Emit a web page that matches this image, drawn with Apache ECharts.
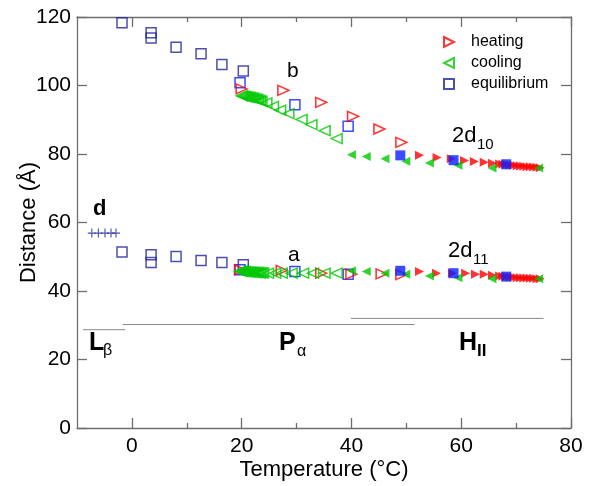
<!DOCTYPE html>
<html>
<head>
<meta charset="utf-8">
<script src="https://cdn.jsdelivr.net/npm/echarts@6/dist/echarts.min.js"></script>
<style>
html,body{margin:0;padding:0;background:#fff;}
#c{width:606px;height:486px;}
</style>
</head>
<body>
<div id="c"></div>
<script>
// ---- data (Temperature °C, Distance Å) ----
const xMajorTicks = [0, 20, 40, 60, 80];
const xMinorTicks = [10, 30, 50, 70];
const equilibriumOpen = [
  [-1.8,118.3],[3.5,115.4],[3.5,113.9],[8.05,111.2],[12.6,109.3],[16.4,106.1],[20.3,104.2],
  [-1.8,51.4],[3.5,50.6],[3.5,48.3],[8.05,50.1],[12.6,48.9],[16.4,48.3],[20.3,47.7]
];
const equilibriumOpenBright = [
  [19.7,100.8],[29.7,94.4],[39.4,88.1],
  [19.7,46.2],[29.7,45.7],[39.4,44.9]
];
const equilibriumFilled = [
  [48.9,79.6],[58.6,78.2],[68.2,77.0],
  [48.9,45.9],[58.6,45.2],[68.2,44.2]
];
const heatingOpen = [
  [20.0,99.0],[27.6,98.6],[34.5,95.1],[40.3,91.0],[45.1,87.3],[49.1,83.4],
  [19.7,46.2],[27.3,46.0],[34.5,45.2],[40.0,44.9],[45.5,45.0],[49.1,44.8]
];
const heatingFilled = [
  [52.4,79.6],[55.6,79.0],[58.2,78.6],[60.6,78.1],[62.4,77.8],[64.2,77.6],[65.7,77.3],[67.0,77.1],
  [67.6,77.0],[68.2,76.9],[68.9,76.8],[69.6,76.7],[70.2,76.6],[70.8,76.5],[71.4,76.4],[72.0,76.3],
  [72.6,76.3],[73.2,76.2],[73.8,76.1],[74.4,76.0],
  [52.4,45.7],[55.5,45.2],[58.4,45.2],[60.8,45.2],[62.6,44.9],[64.2,44.9],[65.7,44.6],[67.0,44.4],
  [67.6,44.3],[68.2,44.2],[68.9,44.1],[69.6,44.0],[70.2,43.9],[70.8,43.9],[71.4,43.8],[72.0,43.8],
  [72.6,43.7],[73.2,43.7],[73.8,43.6],[74.4,43.6]
];
const coolingOpen = [
  [20.0,97.0],[20.3,96.9],[20.6,96.8],[20.9,96.7],[21.2,96.6],[21.5,96.5],[21.8,96.4],[22.1,96.3],
  [22.4,96.1],[22.7,96.0],[23.0,95.8],[23.3,95.6],[23.6,95.4],
  [24.5,94.9],[25.7,93.9],[27.0,92.8],[28.5,91.8],[30.9,90.1],[32.7,88.6],[35.1,86.8],[37.3,84.5],
  [19.7,45.8],[20.0,45.8],[20.3,45.7],[20.6,45.7],[20.9,45.6],[21.2,45.6],[21.5,45.5],[21.8,45.5],
  [22.1,45.5],[22.4,45.4],[22.7,45.4],[23.0,45.4],[23.3,45.3],[23.6,45.3],[23.9,45.3],
  [24.8,45.2],[26.1,45.2],[27.3,45.2],[29.1,45.2],[31.2,45.2],[33.0,45.2],[35.1,45.2],[37.3,45.2]
];
const coolingFilled = [
  [40.0,79.8],[42.7,79.3],[46.1,78.6],[49.9,77.9],[54.2,77.4],[59.4,76.7],[65.6,75.9],[74.1,75.9],
  [40.0,45.9],[42.7,45.7],[46.1,45.2],[49.9,44.9],[54.2,44.4],[59.4,43.9],[65.6,43.6],[74.1,43.6]
];
const dSpacing = [[-7.3,56.9],[-6.1,56.9],[-4.9,56.9],[-3.8,56.9],[-2.9,56.9]];
const phaseLbeta = [[-8.9,28.7],[-1.2,28.7]];
const phasePalpha = [[-1.7,30.2],[51.5,30.2]];
const phaseHII = [[39.9,32.0],[75.0,32.0]];

// ---- styles ----
const RED = '#ff0000', GREEN = '#00c800', NAVY = '#22229a', BLUE = '#0a1eff', AXIS = '#6e6e6e';
const FONT = '"Liberation Sans", Arial, Helvetica, sans-serif';
const plusPath = 'path://M4.3,0H5.7V4.3H10V5.7H5.7V10H4.3V5.7H0V4.3H4.3Z';
const triRight = 'path://M0,0L10,5L0,10Z';
const triLeft = 'path://M10,0L0,5L10,10Z';

function phaseLine(data){
  return {type:'line', data, symbol:'none', silent:true, lineStyle:{color:'#888', width:1}, z:1};
}
function openStyle(c){ return {color:'rgba(255,255,255,0)', borderColor:c, borderWidth:1.5}; }

const chart = echarts.init(document.getElementById('c'), null, {renderer:'canvas'});
const baseX = {type:'value', min:-10, max:80, splitLine:{show:false}};
const option = {
  animation:false,
  backgroundColor:'#fff',
  textStyle:{fontFamily:FONT},
  grid:{left:77, right:35, top:17, bottom:58, containLabel:false, outerBoundsMode:'none'},
  legend:{
    data:[{name:'heating', icon:triRight},{name:'cooling', icon:triLeft},{name:'equilibrium', icon:'rect'}],
    orient:'vertical', left:438, top:29, itemWidth:10, itemHeight:10, itemGap:5,
    textStyle:{fontSize:16, color:'#000', fontFamily:FONT, padding:[0,0,0,12]}, selectedMode:false
  },
  xAxis:[
    Object.assign({}, baseX, {position:'bottom', name:'Temperature (°C)', nameLocation:'middle', nameGap:31,
      nameMoveOverlap:false,
      nameTextStyle:{fontSize:22, color:'#000', fontFamily:FONT},
      axisLine:{onZero:false, lineStyle:{color:AXIS, width:1.3}},
      axisTick:{inside:true, length:10, customValues:xMajorTicks, lineStyle:{color:AXIS, width:1.3}},
      axisLabel:{customValues:xMajorTicks, fontSize:21, color:'#000', margin:8, fontFamily:FONT}}),
    Object.assign({}, baseX, {position:'bottom', axisLine:{show:false, onZero:false},
      axisTick:{inside:true, length:5, customValues:xMinorTicks, lineStyle:{color:AXIS, width:1.3}},
      axisLabel:{show:false}}),
    Object.assign({}, baseX, {position:'top', axisLine:{onZero:false, lineStyle:{color:AXIS, width:1.3}},
      axisTick:{inside:true, length:10, customValues:xMajorTicks, lineStyle:{color:AXIS, width:1.3}},
      axisLabel:{show:false}}),
    Object.assign({}, baseX, {position:'top', axisLine:{show:false, onZero:false},
      axisTick:{inside:true, length:5, customValues:xMinorTicks, lineStyle:{color:AXIS, width:1.3}},
      axisLabel:{show:false}})
  ],
  yAxis:[
    {type:'value', min:0, max:120, interval:20, position:'left', splitLine:{show:false},
      name:'Distance (Å)', nameLocation:'middle', nameGap:37, nameMoveOverlap:false,
      nameTextStyle:{fontSize:22, color:'#000', fontFamily:FONT},
      axisLine:{show:true, onZero:false, lineStyle:{color:AXIS, width:1.3}},
      axisTick:{show:true, inside:true, length:10, lineStyle:{color:AXIS, width:1.3}},
      axisLabel:{fontSize:21, color:'#000', margin:6, fontFamily:FONT}},
    {type:'value', min:0, max:120, interval:20, position:'right', splitLine:{show:false},
      axisLine:{show:true, onZero:false, lineStyle:{color:AXIS, width:1.3}},
      axisTick:{show:true, inside:true, length:10, lineStyle:{color:AXIS, width:1.3}},
      axisLabel:{show:false}}
  ],
  series:[
    phaseLine(phaseLbeta), phaseLine(phasePalpha), phaseLine(phaseHII),
    {type:'scatter', name:'d', data:dSpacing, symbol:plusPath, symbolSize:[8,9],
      itemStyle:{color:NAVY}, z:3},
    {type:'scatter', name:'equilibrium', data:equilibriumOpen, symbol:'rect', symbolSize:10,
      itemStyle:openStyle(NAVY), z:3},
    {type:'scatter', name:'equilibrium2', data:equilibriumOpenBright, symbol:'rect', symbolSize:10,
      itemStyle:openStyle(BLUE), z:3},
    {type:'scatter', name:'heating', data:heatingOpen, symbol:'triangle', symbolRotate:-90, symbolSize:[10,11],
      itemStyle:openStyle(RED), z:4},
    {type:'scatter', name:'heating2', data:heatingFilled, symbol:'triangle', symbolRotate:-90, symbolSize:[9,9],
      itemStyle:{color:RED}, z:4},
    {type:'scatter', name:'cooling', data:coolingOpen, symbol:'triangle', symbolRotate:90, symbolSize:[10,11],
      itemStyle:openStyle(GREEN), z:5},
    {type:'scatter', name:'cooling2', data:coolingFilled, symbol:'triangle', symbolRotate:90, symbolSize:[9,9],
      itemStyle:{color:GREEN}, z:5},
    {type:'scatter', name:'equilibrium3', data:equilibriumFilled, symbol:'rect', symbolSize:10,
      itemStyle:{color:BLUE}, z:6}
  ],
  graphic:[
    {type:'text', x:287, y:61, style:{text:'b', font:'21px '+FONT, fill:'#000', verticalAlign:'top'}},
    {type:'text', x:288, y:245, style:{text:'a', font:'21px '+FONT, fill:'#000', verticalAlign:'top'}},
    {type:'text', x:93, y:198, style:{text:'d', font:'bold 22px '+FONT, fill:'#000', verticalAlign:'top'}},
    {type:'text', x:452, y:125, style:{text:'2d', font:'22px '+FONT, fill:'#000', verticalAlign:'top'}},
    {type:'text', x:477, y:137, style:{text:'10', font:'15px '+FONT, fill:'#000', verticalAlign:'top'}},
    {type:'text', x:448, y:240, style:{text:'2d', font:'22px '+FONT, fill:'#000', verticalAlign:'top'}},
    {type:'text', x:473, y:252, style:{text:'11', font:'15px '+FONT, fill:'#000', verticalAlign:'top'}},
    {type:'text', x:89, y:331, style:{text:'L', font:'bold 25px '+FONT, fill:'#000', verticalAlign:'top'}},
    {type:'text', x:103, y:343, style:{text:'β', font:'16px '+FONT, fill:'#000', verticalAlign:'top'}},
    {type:'text', x:279, y:331, style:{text:'P', font:'bold 25px '+FONT, fill:'#000', verticalAlign:'top'}},
    {type:'text', x:297, y:344, style:{text:'α', font:'16px '+FONT, fill:'#000', verticalAlign:'top'}},
    {type:'text', x:459, y:331, style:{text:'H', font:'bold 25px '+FONT, fill:'#000', verticalAlign:'top'}},
    {type:'text', x:477, y:343, style:{text:'II', font:'bold 17px '+FONT, fill:'#000', verticalAlign:'top'}}
  ]
};
chart.setOption(option);
</script>
</body>
</html>
